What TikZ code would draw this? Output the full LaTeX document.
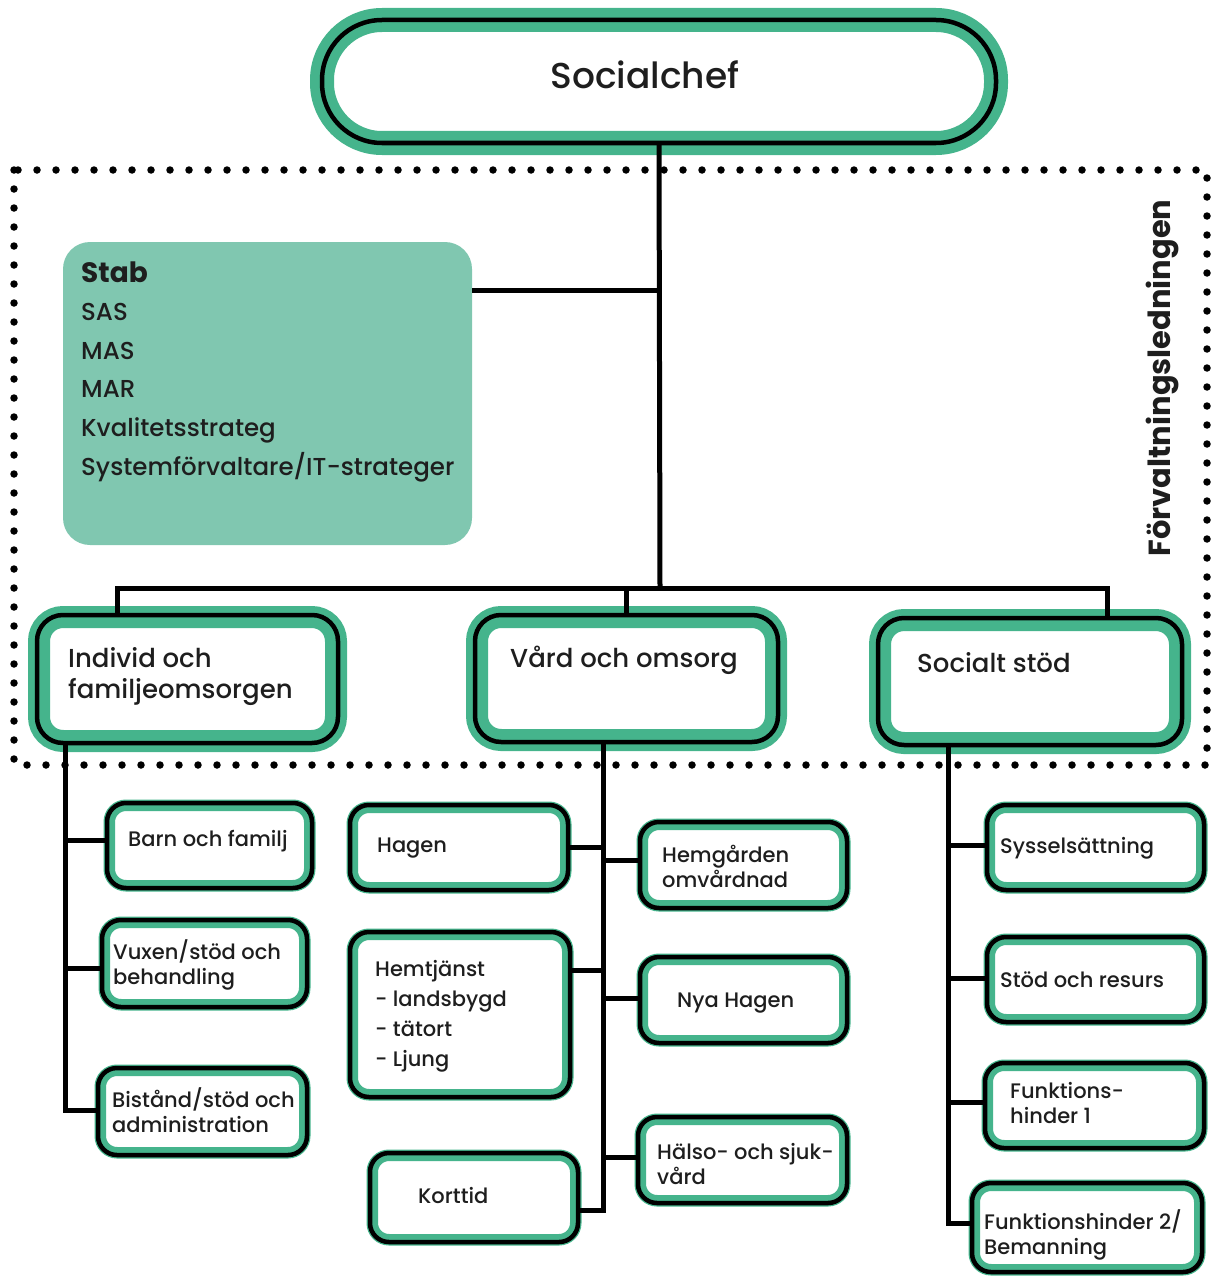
\documentclass[tikz,border=0pt]{standalone}
\usepackage{fontspec}
\setmainfont{Poppins}[UprightFont=* Medium, BoldFont=* Bold]
\definecolor{ringgreen}{HTML}{45B48C}
\definecolor{stabgreen}{HTML}{80C7B0}
\definecolor{ink}{HTML}{1E1E1E}
\tikzset{
  ring/.style n args={3}{draw=black, fill=white, line width=4.5pt, outer sep=0pt,
    inner sep=0pt, rounded corners=#1,
    preaction={draw=ringgreen, line width=#2},
    path picture={\draw[ringgreen, line width=#3, rounded corners=#1]
      (path picture bounding box.south west) rectangle (path picture bounding box.north east);}},
  topbox/.style={ring={60pt}{24pt}{24pt}},
  midbox/.style={ring={26pt}{18pt}{26pt}},
  subbox/.style={ring={19pt}{7pt}{16pt}},
  stabbox/.style={fill=stabgreen, rounded corners=27pt, inner sep=0pt, outer sep=0pt},
  boxtext/.style={anchor=west, align=left, inner sep=0pt, text=ink},
  midtext/.style={boxtext, font=\fontsize{26}{31}\selectfont},
  subtext/.style={boxtext, font=\fontsize{21}{25}\selectfont},
  link/.style={draw=black, line width=5pt},
}
\begin{document}
\begin{tikzpicture}[x=1pt, y=-1pt]
  \useasboundingbox (0,0) rectangle (1211,1279);
  % dotted frame round the management
  \draw[line width=7.5pt, line cap=round, dash pattern=on 0pt off 19pt]
    (14,170) rectangle (1207,765);
  \node[rotate=90, font=\bfseries\fontsize{30.5}{34}\selectfont, text=ink] (ledning)
    at (1162,378) {Förvaltningsledningen};

  % boxes
  \node[topbox, minimum width=674pt, minimum height=123pt] (chef) at (659,81.5) {};
  \node[stabbox, minimum width=409pt, minimum height=303pt] (stab) at (267.5,393.5) {};
  \node[midbox, minimum width=301pt, minimum height=128pt] (individ) at (187.5,679) {};
  \node[midbox, minimum width=303pt, minimum height=127pt] (vard) at (626.5,678.5) {};
  \node[midbox, minimum width=304pt, minimum height=127pt] (socialt) at (1030,681.5) {};

  \node[subbox, minimum width=205pt, minimum height=85pt] (barn) at (209.5,845.5) {};
  \node[subbox, minimum width=205pt, minimum height=87pt] (vuxen) at (204.5,963.5) {};
  \node[subbox, minimum width=209pt, minimum height=87pt] (bistand) at (202.5,1111.5) {};

  \node[subbox, minimum width=218pt, minimum height=85pt] (hagen) at (459,847.5) {};
  \node[subbox, minimum width=220pt, minimum height=165pt] (hemtj) at (460,1014.5) {};
  \node[subbox, minimum width=208pt, minimum height=89pt] (korttid) at (474,1197.5) {};
  \node[subbox, minimum width=207pt, minimum height=86pt] (hemg) at (743.5,865) {};
  \node[subbox, minimum width=207pt, minimum height=86pt] (nyahagen) at (743.5,1000) {};
  \node[subbox, minimum width=209pt, minimum height=86pt] (halso) at (742.5,1160) {};

  \node[subbox, minimum width=217pt, minimum height=85pt] (syssel) at (1095.5,847.5) {};
  \node[subbox, minimum width=217pt, minimum height=85pt] (stod) at (1095.5,979.5) {};
  \node[subbox, minimum width=219pt, minimum height=85pt] (funk1) at (1094.5,1105.5) {};
  \node[subbox, minimum width=230pt, minimum height=89pt] (funk2) at (1087,1227.5) {};

  % texts
  \node[text=ink, font=\fontsize{36}{40}\selectfont] (chef-t) at (645,75) {Socialchef};
  \node[boxtext, font=\fontsize{24.5}{38.6}\selectfont] (stab-t) at (81,371.5)
    {{\fontsize{28}{38.6}\selectfont\textbf{Stab}}\\SAS\\MAS\\MAR\\Kvalitetsstrateg\\Systemförvaltare/IT-strateger};
  \node[midtext] (individ-t) at (68,677) {Individ och\\familjeomsorgen};
  \node[midtext] (vard-t) at (510,660) {Vård och omsorg};
  \node[midtext] (socialt-t) at (917,663) {Socialt stöd};

  \node[subtext] (barn-t) at (128,841) {Barn och familj};
  \node[subtext] (vuxen-t) at (113,965) {Vuxen/stöd och\\behandling};
  \node[subtext] (bistand-t) at (112,1110) {Bistånd/stöd och\\administration};
  \node[subtext] (hagen-t) at (377,848) {Hagen};
  \node[subtext, font=\fontsize{21}{30}\selectfont] (hemtj-t) at (375,1016)
    {Hemtjänst\\- landsbygd\\- tätort\\- Ljung};
  \node[subtext] (korttid-t) at (418,1195) {Korttid};
  \node[subtext] (hemg-t) at (662,866) {Hemgården\\omvårdnad};
  \node[subtext] (nyahagen-t) at (677,1003) {Nya Hagen};
  \node[subtext] (halso-t) at (657,1164) {Hälso- och sjuk-\\vård};
  \node[subtext] (syssel-t) at (1000,848) {Sysselsättning};
  \node[subtext] (stod-t) at (1000,980) {Stöd och resurs};
  \node[subtext] (funk1-t) at (1010,1103) {Funktions-\\hinder 1};
  \node[subtext] (funk2-t) at (984,1235) {Funktionshinder 2/\\Bemanning};

  % joints
  \coordinate (hub) at (660,588);
  \coordinate (barL) at (117,588);
  \coordinate (barR) at (1107,588);
  \coordinate (vardjoin) at (626,588);
  \coordinate (stabjoin) at (660,290);
  \coordinate (ifotop) at (65,743);
  \coordinate (ifo1) at (65,840);
  \coordinate (ifo2) at (65,968);
  \coordinate (ifo3) at (65,1110);
  \coordinate (vootop) at (603,742);
  \coordinate (voo1) at (603,847);
  \coordinate (voo2) at (603,860);
  \coordinate (voo3) at (603,970);
  \coordinate (voo4) at (603,998);
  \coordinate (voo5) at (603,1157);
  \coordinate (voo6) at (603,1210);
  \coordinate (sstop) at (948,745);
  \coordinate (ss1) at (948,845);
  \coordinate (ss2) at (948,978);
  \coordinate (ss3) at (948,1102);
  \coordinate (ss4) at (948,1223);

  \begin{scope}[link]
    \draw (chef.south) -- (hub);
    \draw (stabjoin -| stab.east) -- (stabjoin);
    \draw (barL |- individ.north) -- (barL) -- (barR) -- (barR |- socialt.north);
    \draw (vardjoin) -- (vardjoin |- vard.north);

    \draw (ifotop) -- (ifo3) -- (ifo3 -| bistand.west);
    \draw (ifo1) -- (ifo1 -| barn.west);
    \draw (ifo2) -- (ifo2 -| vuxen.west);

    \draw (vootop) -- (voo6) -- (voo6 -| korttid.east);
    \draw (voo1) -- (voo1 -| hagen.east);
    \draw (voo3) -- (voo3 -| hemtj.east);
    \draw (voo2) -- (voo2 -| hemg.west);
    \draw (voo4) -- (voo4 -| nyahagen.west);
    \draw (voo5) -- (voo5 -| halso.west);

    \draw (sstop) -- (ss4) -- (ss4 -| funk2.west);
    \draw (ss1) -- (ss1 -| syssel.west);
    \draw (ss2) -- (ss2 -| stod.west);
    \draw (ss3) -- (ss3 -| funk1.west);
  \end{scope}
\end{tikzpicture}
\end{document}
